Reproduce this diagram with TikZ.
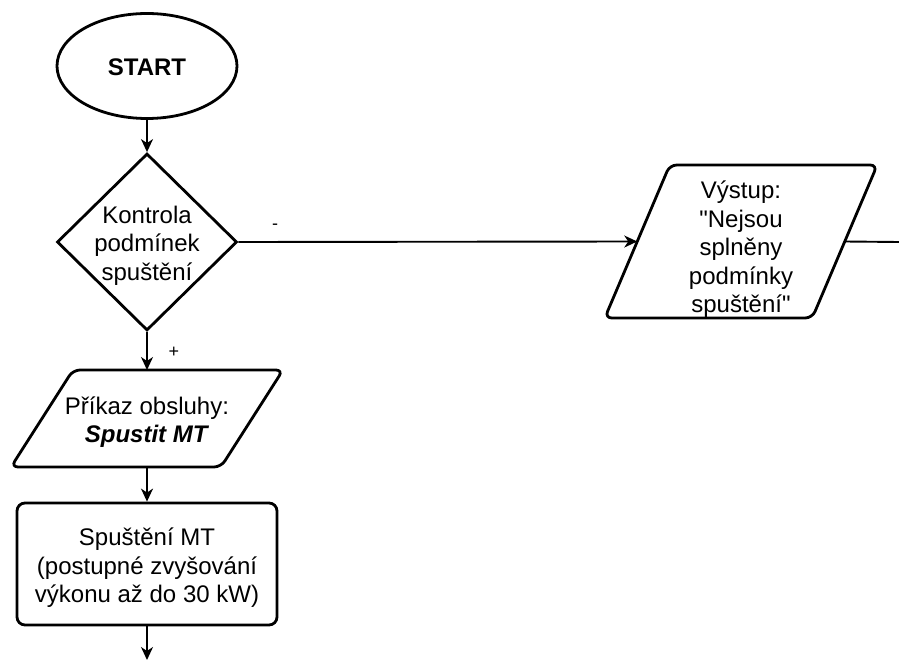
\documentclass[tikz,border=0pt]{standalone}
\usepackage{fontspec}
\setmainfont{Liberation Sans}
\usetikzlibrary{shapes.geometric,arrows.meta,calc}
\newcommand\straightdq{\XeTeXglyph\XeTeXcharglyph"22\relax}
\begin{document}
\begin{tikzpicture}[x=1pt,y=-1pt,
  base/.style={font=\fontsize{24}{28.5}\selectfont, align=center, inner sep=0pt, text depth=0pt},
  lines/.style={text height={(#1-1)*28.5pt+20pt}},
  shapeline/.style={draw=black, line width=2.8pt},
  term/.style={base, lines=1, shapeline, ellipse, minimum width=180pt, minimum height=105pt},
  decbox/.style={base, lines=3, shapeline, diamond, inner sep=-12pt, minimum width=180pt, minimum height=177pt},
  iobox/.style={base, outer sep=0pt},
  paraline/.style={draw=black, line width=2.8pt, rounded corners=7pt},
  procbox/.style={base, lines=3, shapeline, rounded corners=8pt, minimum width=260pt, minimum height=122pt},
  conn/.style={draw=black, line width=1.9pt},
  arr/.style={conn, -{Stealth[length=13pt,width=12pt,inset=4pt]}},
  lbl/.style={font=\fontsize{18}{20}\selectfont, inner sep=0pt}]
\useasboundingbox (0,0) rectangle (899,660);

\node[term] (start) at (147,66) {\textbf{START}};
\node[decbox] (dec) at (147,242) {Kontrola\\podmínek\\spuštění};
\node[iobox, text height=142pt, minimum width=207.5pt, minimum height=153pt] (out) at (741,241.5)
  {Výstup:\\\straightdq Nejsou\\splněny\\podmínky\\spuštění\straightdq};
\node[iobox, lines=2, minimum width=210pt, minimum height=97pt] (cmd) at (147,418.5)
  {Příkaz obsluhy:\\\textbf{\textit{Spustit MT}}};
\node[procbox] (act) at (147,564) {Spuštění MT\\(postupné zvyšování\\výkonu až do 30 kW)};

% parallelogram outlines
\draw[paraline] ($(out.north west)+(32.5pt,0)$) -- ($(out.north east)+(32.5pt,0)$)
  -- ($(out.south east)+(-32.5pt,0)$) -- ($(out.south west)+(-32.5pt,0)$) -- cycle;
\draw[paraline] ($(cmd.north west)+(31pt,0)$) -- ($(cmd.north east)+(31pt,0)$)
  -- ($(cmd.south east)+(-31pt,0)$) -- ($(cmd.south west)+(-31pt,0)$) -- cycle;

\coordinate (outend) at (899,242);
\coordinate (actend) at (147,660);

\draw[arr] (start) -- (dec);
\draw[arr] (dec.east) -- (out.west);
\draw[conn] (out.east) -- (outend);
\draw[arr] (dec.south) -- (cmd.north);
\draw[arr] (cmd.south) -- (act.north);
\draw[arr] (act.south) -- (actend);

\node[lbl] (minus) at (275,227) {-};
\node[lbl] (plus) at (174,352) {+};
\end{tikzpicture}
\end{document}
